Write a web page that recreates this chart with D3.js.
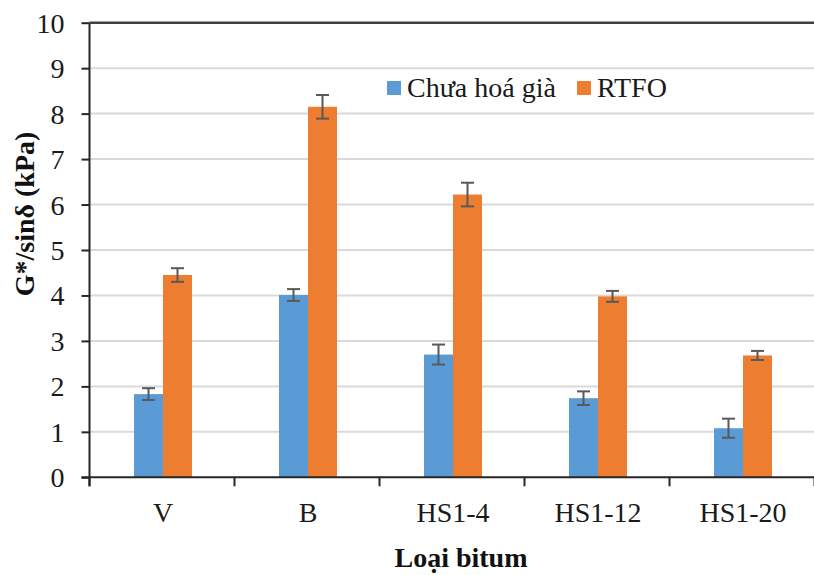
<!DOCTYPE html>
<html>
<head>
<meta charset="utf-8">
<script src="https://cdn.jsdelivr.net/npm/d3@7/dist/d3.min.js"></script>
<style>
  html, body { margin: 0; padding: 0; background: #ffffff; }
  svg { display: block; }
  svg text { font-family: "Liberation Serif", "Times New Roman", serif; }
</style>
</head>
<body>
<svg id="chart" width="814" height="575"></svg>
<script>
// Bitumen types on the x axis
const categories = ["V", "B", "HS1-4", "HS1-12", "HS1-20"];
// Series names (legend)
const seriesNames = ["Chưa hoá già", "RTFO"];
// G*/sinδ means (kPa)
const unagedValues = [1.83, 4.01, 2.70, 1.74, 1.08];
const rtfoValues = [4.45, 8.15, 6.22, 3.98, 2.68];
// Standard deviations (error bars)
const unagedErrors = [0.13, 0.13, 0.22, 0.15, 0.21];
const rtfoErrors = [0.15, 0.26, 0.26, 0.12, 0.10];
// Y axis ticks
const yTicks = [0, 1, 2, 3, 4, 5, 6, 7, 8, 9, 10];

const colors = ["#5b9bd5", "#ed7d31"];
const svg = d3.select("#chart");

const plotLeft = 89.5, plotRight = 814.5, plotTop = 22.7, plotBottom = 477.3;

const x = d3.scaleBand().domain(categories).range([plotLeft, plotRight]).paddingInner(0).paddingOuter(0);
const barW = 29;
const xs = d3.scaleBand().domain(seriesNames).range([0, barW * 2]);
const y = d3.scaleLinear().domain([0, 10]).range([plotBottom, plotTop]);

// Horizontal gridlines
svg.append("g").selectAll("line").data(yTicks.filter(d => d > 0 && d < 10)).join("line")
  .attr("x1", plotLeft).attr("x2", plotRight)
  .attr("y1", d => y(d)).attr("y2", d => y(d))
  .attr("stroke", "#d9d9d9").attr("stroke-width", 2);

// Bars
const series = [
  { name: seriesNames[0], values: unagedValues, errors: unagedErrors },
  { name: seriesNames[1], values: rtfoValues, errors: rtfoErrors }
];
const barX = (cat, s) => x(cat) + (x.bandwidth() - barW * 2) / 2 + 1 + xs(s);

series.forEach((s, si) => {
  const g = svg.append("g");
  g.selectAll("rect").data(categories).join("rect")
    .attr("x", (c) => barX(c, s.name))
    .attr("y", (c, i) => y(s.values[i]))
    .attr("width", xs.bandwidth())
    .attr("height", (c, i) => y(0) - y(s.values[i]))
    .attr("fill", colors[si]);
});

// Error bars
series.forEach((s) => {
  const eg = svg.append("g").attr("stroke", "#595959").attr("stroke-width", 2);
  categories.forEach((c, i) => {
    const cx = barX(c, s.name) + xs.bandwidth() / 2;
    const hi = y(s.values[i] + s.errors[i]);
    const lo = y(s.values[i] - s.errors[i]);
    eg.append("line").attr("x1", cx).attr("x2", cx).attr("y1", hi).attr("y2", lo);
    eg.append("line").attr("x1", cx - 6.5).attr("x2", cx + 6.5).attr("y1", hi).attr("y2", hi);
    eg.append("line").attr("x1", cx - 6.5).attr("x2", cx + 6.5).attr("y1", lo).attr("y2", lo);
  });
});

// Y axis
const yAxis = d3.axisLeft(y).tickValues(yTicks).tickSize(8).tickPadding(17).tickFormat(d3.format("d"));
const yg = svg.append("g").attr("transform", `translate(${plotLeft},0)`).call(yAxis);
yg.attr("font-family", null);
yg.select(".domain").remove();
yg.selectAll(".tick line").attr("stroke", "#262626").attr("stroke-width", 2);
yg.selectAll(".tick text").attr("font-size", 28).attr("fill", "#1a1a1a").attr("dy", "0.34em");
svg.append("line").attr("x1", plotLeft).attr("x2", plotLeft).attr("y1", plotTop).attr("y2", plotBottom + 9)
  .attr("stroke", "#262626").attr("stroke-width", 2);

// Top border line
svg.append("line").attr("x1", plotLeft).attr("x2", plotRight).attr("y1", plotTop).attr("y2", plotTop)
  .attr("stroke", "#404040").attr("stroke-width", 2.5);

// X axis
svg.append("line").attr("x1", plotLeft - 8).attr("x2", plotRight).attr("y1", plotBottom).attr("y2", plotBottom)
  .attr("stroke", "#262626").attr("stroke-width", 2);
const bounds = categories.map(c => x(c)).concat([x(categories[categories.length - 1]) + x.bandwidth()]);
svg.append("g").selectAll("line").data(bounds).join("line")
  .attr("x1", d => d).attr("x2", d => d).attr("y1", plotBottom).attr("y2", plotBottom + 9)
  .attr("stroke", "#262626").attr("stroke-width", 2);
svg.append("g").selectAll("text").data(categories).join("text")
  .attr("x", c => x(c) + x.bandwidth() / 2 + 1)
  .attr("y", 522)
  .attr("text-anchor", "middle")
  .attr("font-size", 28).attr("fill", "#1a1a1a")
  .text(c => c);

// Axis titles
svg.append("text").attr("x", 461).attr("y", 567).attr("text-anchor", "middle")
  .attr("font-size", 28).attr("font-weight", "bold").attr("fill", "#111")
  .text("Loại bitum");
svg.append("text").attr("transform", "translate(34,214) rotate(-90)").attr("text-anchor", "middle")
  .attr("font-size", 28).attr("font-weight", "bold").attr("fill", "#111")
  .text("G*/sinδ (kPa)");

// Legend
const legend = svg.append("g");
const legendItems = [{ x: 387, label: seriesNames[0] }, { x: 577, label: seriesNames[1] }];
legendItems.forEach((it, i) => {
  legend.append("rect").attr("x", it.x).attr("y", 81).attr("width", 14).attr("height", 14).attr("fill", colors[i]);
  legend.append("text").attr("x", it.x + 20).attr("y", 97).attr("font-size", 28).attr("fill", "#1a1a1a").text(it.label);
});
</script>
</body>
</html>
